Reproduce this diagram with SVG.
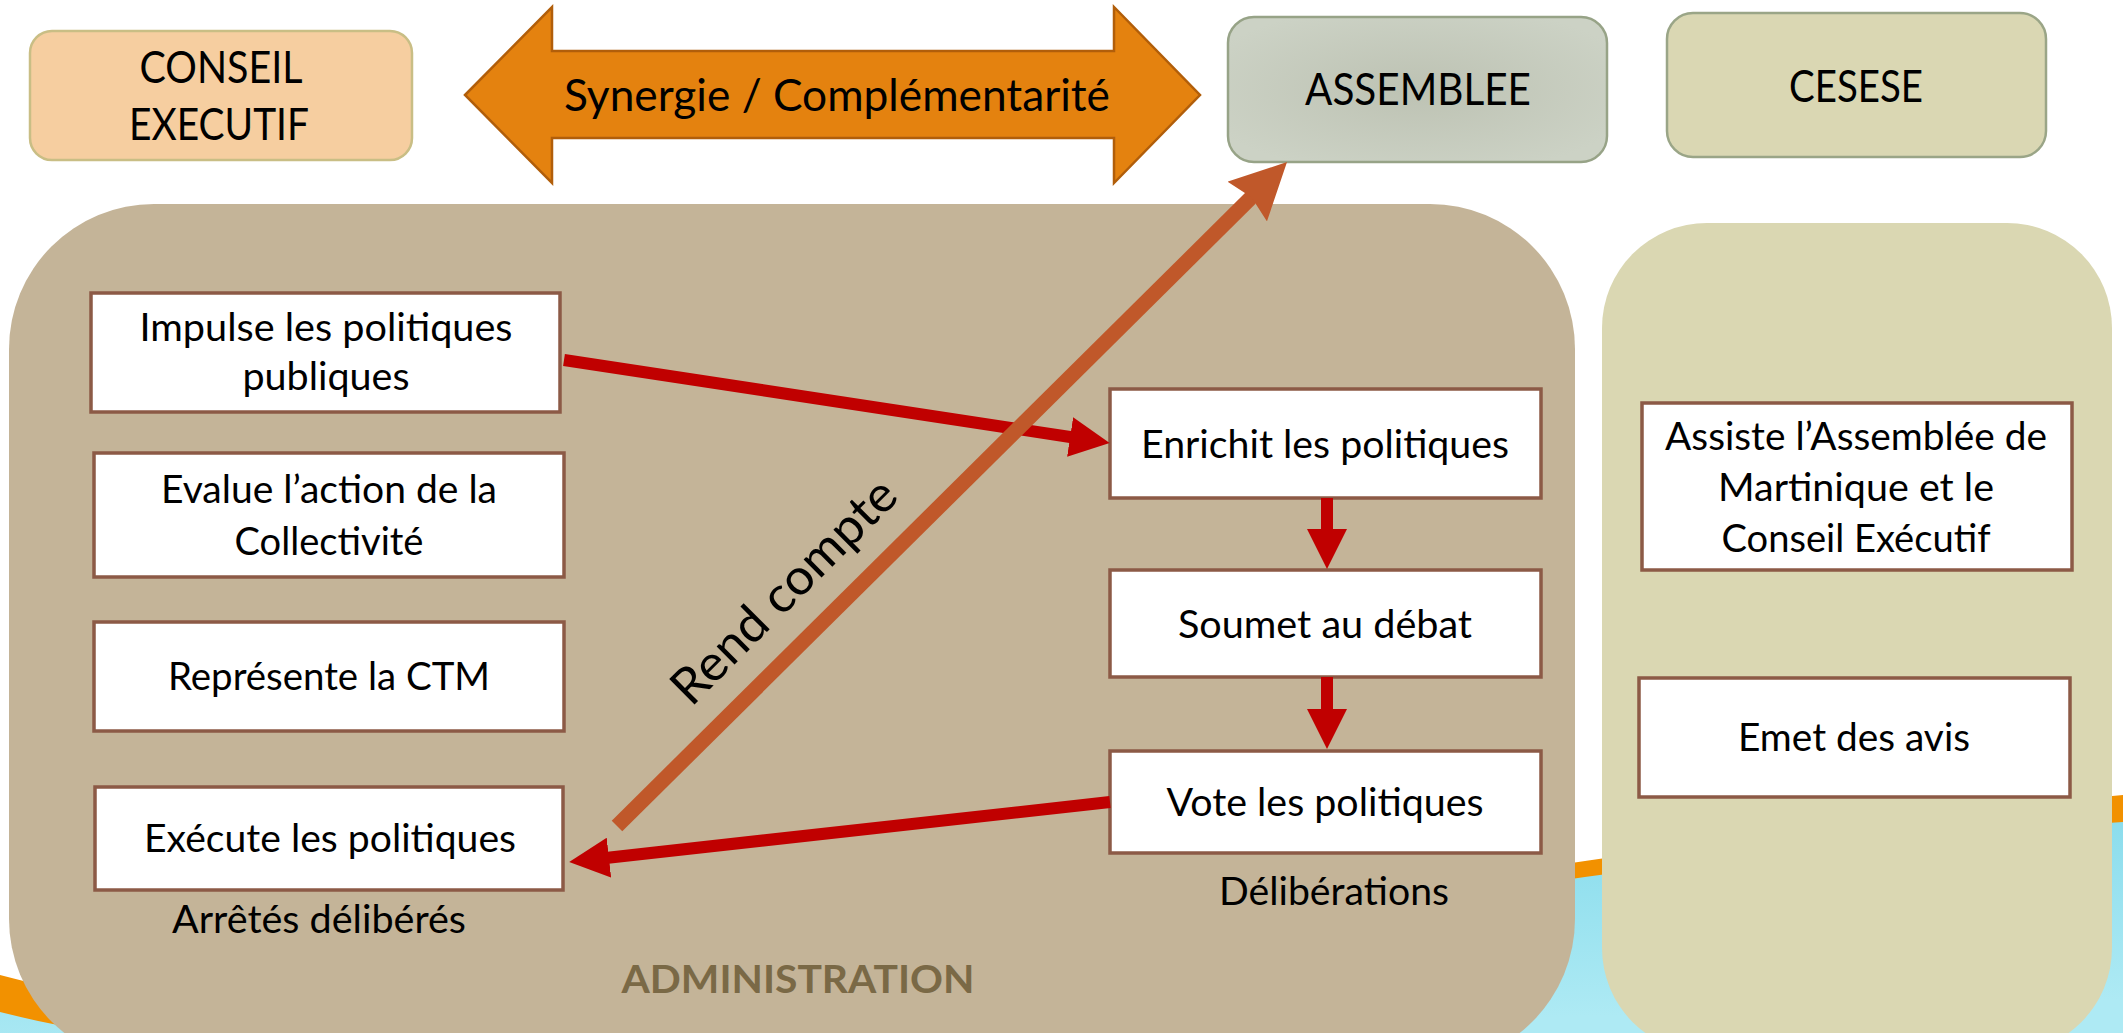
<svg xmlns="http://www.w3.org/2000/svg" width="2123" height="1033" viewBox="0 0 2123 1033">
<defs>
<style>
text{font-family:Lato,"Open Sans","Liberation Sans",sans-serif;fill:#000;text-anchor:middle}
.t{font-size:39px}
.h{font-size:44px}
.box{fill:#fff;stroke:#8C5A46;stroke-width:3.5}
.red{stroke:#C00000;stroke-width:12;fill:none}
</style>
<linearGradient id="cyan" x1="0" y1="0" x2="0.3" y2="1">
<stop offset="0" stop-color="#7ED8EA"/>
<stop offset="1" stop-color="#AEEAF4"/>
</linearGradient>
<radialGradient id="asm" cx="0.5" cy="0.5" r="0.6">
<stop offset="0" stop-color="#BDC2B3"/>
<stop offset="1" stop-color="#CCD2C5"/>
</radialGradient>
<marker id="ah" markerUnits="userSpaceOnUse" markerWidth="40" markerHeight="40" refX="10" refY="20" orient="auto" viewBox="0 0 40 40">
<path d="M0,0 L40,20 L0,40 z" fill="#C00000"/>
</marker>
<marker id="ahb" markerUnits="userSpaceOnUse" markerWidth="56" markerHeight="56" refX="16" refY="28" orient="auto" viewBox="0 0 56 56">
<path d="M0,0 L56,28 L0,56 L6,28 z" fill="#C0582A"/>
</marker>
</defs>
<rect width="2123" height="1033" fill="#fff"/>
<g id="background">
<path d="M0,975 C500,1110 1200,880 2123,795 L2123,1033 L0,1033 z" fill="#F29100"/>
<path d="M0,1012 C500,1140 1200,878 2123,822 L2123,1033 L0,1033 z" fill="url(#cyan)"/>
</g>
<g id="administration">
<rect x="9" y="204" width="1566" height="860" rx="145" ry="145" fill="#C4B498"/>
<text x="798" y="993" style="font-size:39px;font-weight:bold;fill:#7A6946" textLength="353" lengthAdjust="spacingAndGlyphs">ADMINISTRATION</text>
</g>
<g id="cesese-panel">
<rect x="1602" y="223" width="510" height="830" rx="105" ry="105" fill="#DAD7B2"/>
</g>
<g id="conseil-executif">
<rect x="30" y="31" width="382" height="129" rx="22" fill="#F6CEA0" stroke="#C9BE85" stroke-width="2.5"/>
<text class="h" x="221" y="83" textLength="163" lengthAdjust="spacingAndGlyphs">CONSEIL</text>
<text class="h" x="219" y="140" textLength="180" lengthAdjust="spacingAndGlyphs">EXECUTIF</text>
</g>
<g id="assemblee">
<rect x="1228" y="17" width="379" height="145" rx="26" fill="url(#asm)" stroke="#97A387" stroke-width="2.5"/>
<text class="h" x="1418" y="105" textLength="226" lengthAdjust="spacingAndGlyphs">ASSEMBLEE</text>
</g>
<g id="cesese">
<rect x="1667" y="13" width="379" height="144" rx="26" fill="#DAD7B3" stroke="#9AA587" stroke-width="2.5"/>
<text class="h" x="1856" y="102" textLength="134" lengthAdjust="spacingAndGlyphs">CESESE</text>
</g>
<g id="synergie">
<path d="M465,95 L552,7 L552,51 L1114,51 L1114,7 L1200,95 L1114,183 L1114,138 L552,138 L552,183 z" fill="#E4820F" stroke="#B15E0A" stroke-width="2.5" stroke-linejoin="miter"/>
<text class="h" x="837" y="111" textLength="546" lengthAdjust="spacingAndGlyphs">Synergie / Complémentarité</text>
</g>
<g id="impulse">
<rect class="box" x="91" y="293" width="469" height="119"/>
<text class="t" x="326" y="341" textLength="373" lengthAdjust="spacingAndGlyphs">Impulse les politiques</text>
<text class="t" x="326" y="390" textLength="167" lengthAdjust="spacingAndGlyphs">publiques</text>
</g>
<g id="evalue">
<rect class="box" x="94" y="453" width="470" height="124"/>
<text class="t" x="329" y="503" textLength="336" lengthAdjust="spacingAndGlyphs">Evalue l’action de la</text>
<text class="t" x="329" y="555" textLength="189" lengthAdjust="spacingAndGlyphs">Collectivité</text>
</g>
<g id="represente">
<rect class="box" x="94" y="622" width="470" height="109"/>
<text class="t" x="329" y="690" textLength="322" lengthAdjust="spacingAndGlyphs">Représente la CTM</text>
</g>
<g id="execute">
<rect class="box" x="95" y="787" width="468" height="103"/>
<text class="t" x="330" y="852" textLength="372" lengthAdjust="spacingAndGlyphs">Exécute les politiques</text>
<text class="t" x="319" y="933" textLength="294" lengthAdjust="spacingAndGlyphs">Arrêtés délibérés</text>
</g>
<g id="enrichit">
<rect class="box" x="1110" y="389" width="431" height="109"/>
<text class="t" x="1325" y="458" textLength="368" lengthAdjust="spacingAndGlyphs">Enrichit les politiques</text>
</g>
<g id="soumet">
<rect class="box" x="1110" y="570" width="431" height="107"/>
<text class="t" x="1325" y="638" textLength="294" lengthAdjust="spacingAndGlyphs">Soumet au débat</text>
</g>
<g id="vote">
<rect class="box" x="1110" y="751" width="431" height="102"/>
<text class="t" x="1325" y="816" textLength="317" lengthAdjust="spacingAndGlyphs">Vote les politiques</text>
<text class="t" x="1334" y="905" textLength="230" lengthAdjust="spacingAndGlyphs">Délibérations</text>
</g>
<g id="assiste">
<rect class="box" x="1642" y="403" width="430" height="167"/>
<text class="t" x="1856" y="450" textLength="382" lengthAdjust="spacingAndGlyphs">Assiste l’Assemblée de</text>
<text class="t" x="1856" y="501" textLength="276" lengthAdjust="spacingAndGlyphs">Martinique et le</text>
<text class="t" x="1856" y="552" textLength="269" lengthAdjust="spacingAndGlyphs">Conseil Exécutif</text>
</g>
<g id="emet">
<rect class="box" x="1639" y="678" width="431" height="119"/>
<text class="t" x="1854" y="751" textLength="232" lengthAdjust="spacingAndGlyphs">Emet des avis</text>
</g>
<g id="connectors">
<line class="red" x1="564" y1="360" x2="1080" y2="438.5" marker-end="url(#ah)"/>
<line class="red" x1="1327" y1="498" x2="1327" y2="539" marker-end="url(#ah)"/>
<line class="red" x1="1327" y1="677" x2="1327" y2="719" marker-end="url(#ah)"/>
<line class="red" x1="1110" y1="802" x2="599" y2="858.7" marker-end="url(#ah)"/>
<line x1="617" y1="826" x2="1258.6" y2="190.2" stroke="#C0582A" stroke-width="15" marker-end="url(#ahb)"/>
<text x="796" y="603" transform="rotate(-45 796 603)" style="font-size:50px" textLength="296" lengthAdjust="spacingAndGlyphs">Rend compte</text>
</g>
</svg>
